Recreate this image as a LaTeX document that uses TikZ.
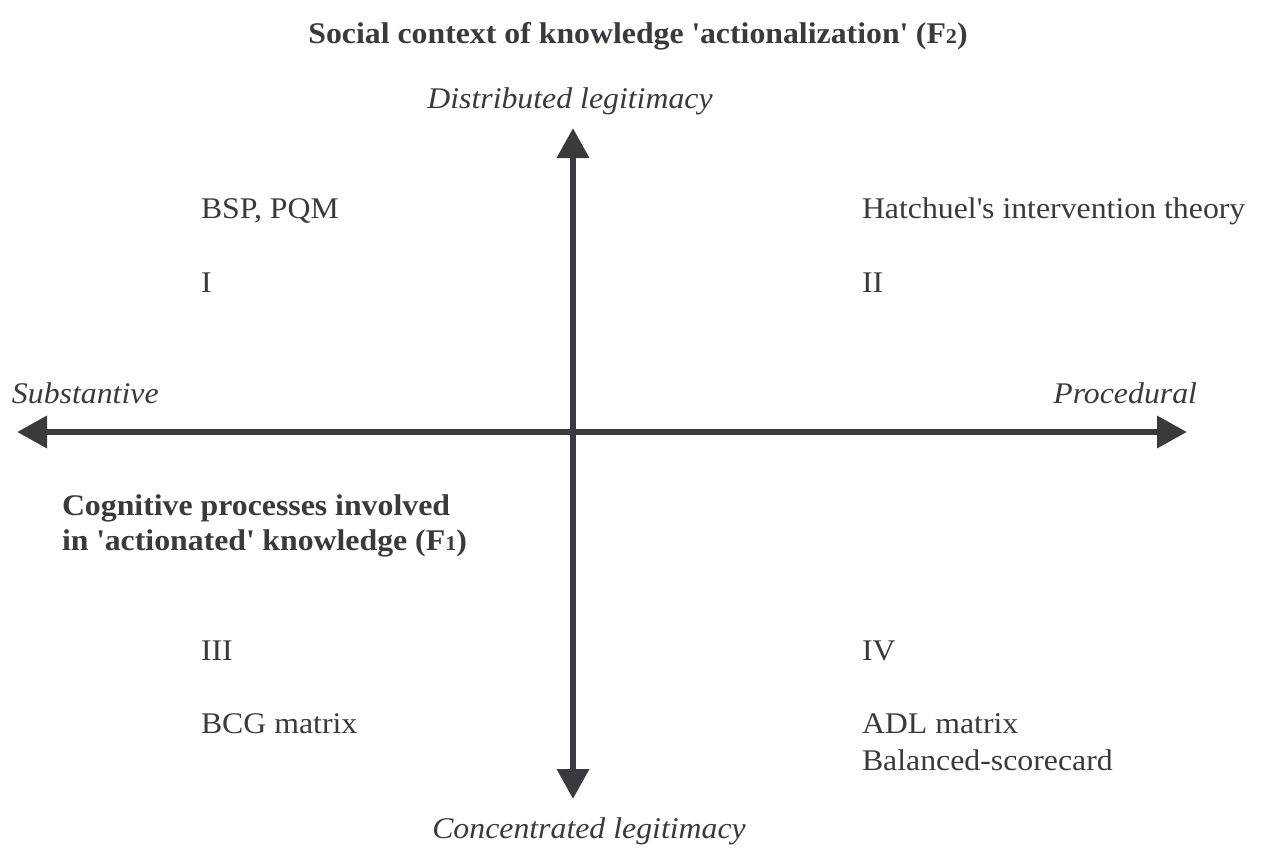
\documentclass[tikz,border=0pt]{standalone}
\usepackage{fontspec}
\setmainfont[FakeStretch=1.06]{Liberation Serif}
\usetikzlibrary{arrows.meta}
\definecolor{ink}{HTML}{3A393E}
\newcommand{\smalldig}[1]{{\fontsize{21}{24}\selectfont #1}}
\newcommand{\sq}{\textquotesingle}
\begin{document}
\begin{tikzpicture}[x=1pt,y=-1pt,
  every node/.style={inner sep=0pt, outer sep=0pt, text=ink, font=\fontsize{30}{36}\selectfont},
  lbl/.style={anchor=base west},
  ital/.style={anchor=base, font=\fontsize{30}{36}\selectfont\itshape},
  bold/.style={font=\fontsize{30}{36}\selectfont\bfseries},
  axis/.style={draw=ink, line width=6.5pt, {Triangle[length=30pt,width=31pt]}-{Triangle[length=30pt,width=31pt]}}]
\useasboundingbox (0,0) rectangle (1261,852);
% title
\node[bold, anchor=base] (title) at (638,43) {Social context of knowledge \sq actionalization\sq\ (F\smalldig{2})};
% axes
\coordinate (top) at (573,128);
\coordinate (bottom) at (573,799);
\coordinate (left) at (17,432);
\coordinate (right) at (1187,432);
\draw[axis] (bottom) -- (top);
\draw[axis] (left) -- (right);
% axis labels
\node[ital] (dist) at (570,108) {Distributed legitimacy};
\node[ital] (conc) at (589,838) {Concentrated legitimacy};
\node[ital, anchor=base west] (subst) at (12,403) {Substantive};
\node[ital, anchor=base east] (proc) at (1197,403) {Procedural};
% quadrants
\node[lbl] (bsp) at (201,218) {BSP, PQM};
\node[lbl] (q1) at (201,292) {I};
\node[lbl] (hat) at (862,218) {Hatchuel\sq s intervention theory};
\node[lbl] (q2) at (862,292) {II};
\node[lbl] (q3) at (201,660) {III};
\node[lbl] (bcg) at (201,733) {BCG matrix};
\node[lbl] (q4) at (862,660) {IV};
\node[lbl] (adl) at (862,733) {ADL matrix};
\node[lbl] (bsc) at (862,770) {Balanced-scorecard};
% F1
\node[lbl, bold] (cog1) at (62,515) {Cognitive processes involved};
\node[lbl, bold] (cog2) at (62,550) {in \sq actionated\sq\ knowledge (F\smalldig{1})};
\end{tikzpicture}
\end{document}
